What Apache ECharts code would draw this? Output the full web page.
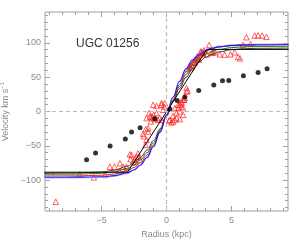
<!DOCTYPE html>
<html><head><meta charset="utf-8">
<script src="https://cdn.jsdelivr.net/npm/echarts@6/dist/echarts.min.js"></script>
<style>html,body{margin:0;padding:0;background:#fff}#c{width:300px;height:240px}</style>
</head><body><div id="c"></div>
<script>
// ---- tick values ----
const xMajorTicks = [-5, 0, 5];
const xMinorTicks = [-9,-8,-7,-6,-5,-4,-3,-2,-1,0,1,2,3,4,5,6,7,8,9];
const yMajorTicks = [-100, -50, 0, 50, 100];
const yMinorTicks = [-140,-130,-120,-110,-100,-90,-80,-70,-60,-50,-40,-30,-20,-10,0,10,20,30,40,50,60,70,80,90,100,110,120,130,140];

// ---- black filled dots ----
const dotR = [-6.15,-5.46,-4.34,-3.17,-2.69,-2.03,-0.9,0.25,0.82,1.41,2.48,3.64,4.31,4.79,5.92,7.05,7.74];
const dotV = [-70.2,-60.4,-50.1,-40.2,-29.7,-23.8,-10.7,3.5,16,21,30.7,38.6,44.9,45.3,52.2,57,62.4];

// ---- red open triangles ----
const triR = [-8.52,-6.67,-5.59,-4.72,-4.36,-4.0,-3.65,-3.59,-3.34,-3.15,-3.08,-2.82,-2.77,-2.69,-2.57,-2.44,-2.31,-2.13,-2.05,-2.2,-2.4,
  -1.8,-1.75,-1.62,-1.54,-1.59,-1.41,-1.41,-1.54,-1.34,-1.28,-1.21,-1.15,-1.08,-1.03,-0.98,-0.9,-0.77,-0.77,-0.65,-0.52,-0.38,-0.38,-0.38,-0.26,-0.18,-0.13,
  0.2,0.25,0.38,0.51,0.51,0.64,0.64,0.77,0.77,0.9,0.9,1.02,1.02,1.02,1.15,1.15,1.15,1.28,1.28,1.28,1.36,1.41,1.54,1.54,1.62,
  1.66,1.79,1.87,1.92,1.97,2.05,2.12,2.18,2.23,2.31,2.38,2.43,2.48,2.56,2.64,2.69,2.69,2.82,2.82,2.89,3.12,2.74,
  3.28,3.46,3.58,3.72,4.1,4.48,4.92,5.25,5.51,5.66,5.89,6.15,6.46,6.79,7.05,7.36,7.69];
const triV = [-131.6,-91.5,-95.9,-92.5,-80.4,-80.4,-86.7,-75.4,-80.4,-86.7,-80.4,-62.3,-69.6,-63.3,-73,-69.6,-65.8,-65.8,-70.6,-61,-74,
  -32.6,-36,-48.7,-41.4,-25.7,-29.2,-24.3,-9.6,-2.4,-7.3,-14.6,-7.3,-9.6,9.8,-4.8,-11,-2.4,8,-12.1,-9.6,-12.1,12.3,9.8,2.5,7.3,12.3,
  -13.2,-12.1,-16,-14.6,-6.3,-12.1,4.9,-9.6,-2.4,4.9,9.8,9.8,0,-11.1,14.6,12.3,7.3,-4.8,4.9,17.1,17.1,19.6,29.2,34.2,30.3,
  62,65.8,63.4,68.3,65.8,70.8,73.1,71.6,75.6,76.6,80.4,78.1,75.6,82.9,87.7,85.4,86.8,86.3,84.4,89.2,83.3,85.4,
  97,85.4,86.3,86.3,83.3,82.9,83.3,86.3,79.5,77.5,97.1,108.2,98.5,110.7,111,110.7,108.8];

// ---- model curves ----
const curveR = [-9.4,-7,-5,-4,-3,-2.5,-2,-1.5,-1,-0.5,0,0.5,1,1.5,2,2.5,3,3.5,4,5,6,7,9.4];
const lavenderV = [-97.0,-96.8,-96.0,-94.4,-90.2,-85.7,-78.6,-67.4,-51.3,-30,-5.1,20.9,44.2,62.6,75.8,84.4,90,93.3,95.2,97,97.7,98,98.4];
const blueV  = [-95.8,-95.7,-95.0,-93.5,-89.3,-84.9,-77.9,-67.0,-51.1,-30.0,-5.2,20.7,43.7,62.0,75.0,83.5,89.0,92.3,94.2,96.0,96.7,96.9,97.2];
const redV   = [-94.0,-93.8,-92.9,-91.1,-86.3,-81.6,-74.4,-63.7,-48.8,-29.5,-7.0,17.0,39.3,57.6,71.3,80.9,87.2,91.3,93.9,96.5,97.4,97.8,98.0];
const greenV = [-91.5,-91.3,-90.1,-88.0,-82.8,-77.9,-70.6,-60.0,-45.7,-27.5,-6.5,15.7,36.5,53.9,67.2,76.7,83.2,87.5,90.3,93.1,94.3,94.7,95.0];
const darkV  = [-90.0,-89.7,-88.2,-85.6,-79.7,-74.4,-66.8,-56.3,-42.4,-25.3,-6.0,14.3,33.4,49.7,62.5,72.2,78.9,83.5,86.7,90.1,91.5,92.1,92.5];
const stepR = [-9.4,-3.0,3.1,9.4];
const stepV = [-88.5,-88.5,90.5,90.5];

const zip = (a,b) => a.map((v,i)=>[v,b[i]]);
const fmt = v => v < 0 ? '\u2212' + Math.abs(v) : String(v);
const AX = '#a0a0a0', TXT = '#8a8a8a', FONT = 'Liberation Sans';
const XMIN=-9.35, XMAX=9.35, YMIN=-145, YMAX=145;

function xAx(pos, ticks, len, labels){
  return {type:'value', gridIndex:0, min:XMIN, max:XMAX, position:pos,
    axisLine:{show:false, onZero:false}, splitLine:{show:false},
    axisTick:{show:true, inside:true, length:len, customValues:ticks, lineStyle:{color:AX,width:1}},
    axisLabel: labels ? {show:true, customValues:xMajorTicks, formatter:fmt, color:TXT, fontSize:9, fontFamily:FONT, margin:5} : {show:false}};
}
function yAx(pos, ticks, len, labels){
  return {type:'value', gridIndex:0, min:YMIN, max:YMAX, position:pos,
    axisLine:{show:false, onZero:false}, splitLine:{show:false},
    axisTick:{show:true, inside:true, length:len, customValues:ticks, lineStyle:{color:AX,width:1}},
    axisLabel: labels ? {show:true, customValues:yMajorTicks, formatter:fmt, color:TXT, fontSize:9, fontFamily:FONT, margin:4} : {show:false}};
}
const xAxes = [xAx('bottom', xMajorTicks, 5, true), xAx('bottom', xMinorTicks, 3, false), xAx('top', xMajorTicks, 5, false), xAx('top', xMinorTicks, 3, false)];
xAxes[0].name = 'Radius (kpc)';
xAxes[0].nameLocation = 'middle';
xAxes[0].nameGap = 14;
xAxes[0].nameTextStyle = {color:TXT, fontSize:9, fontFamily:FONT};
const yAxes = [yAx('left', yMajorTicks, 5, true), yAx('left', yMinorTicks, 3, false), yAx('right', yMajorTicks, 5, false), yAx('right', yMinorTicks, 3, false)];
yAxes[0].name = 'Velocity km s{sup|\u22121}';
yAxes[0].nameLocation = 'middle';
yAxes[0].nameGap = 33;
yAxes[0].nameTextStyle = {color:TXT, fontSize:9, fontFamily:FONT, rich:{sup:{fontSize:6, color:TXT, fontFamily:FONT, verticalAlign:'top', padding:[0,0,5,0]}}};

function curve(data, color, w){
  return {type:'line', data:data, xAxisIndex:0, yAxisIndex:0, showSymbol:false, symbol:'none',
    smooth:0.4, smoothMonotone:'x', lineStyle:{color:color, width:w}, silent:true, z:3};
}

const chart = echarts.init(document.getElementById('c'), null, {renderer:'canvas'});
chart.setOption({
  animation:false,
  backgroundColor:'#fff',
  grid:{left:45, right:12, top:12, bottom:29, containLabel:false, outerBoundsMode:'none', show:true, borderColor:AX, borderWidth:1, backgroundColor:'transparent'},
  xAxis:xAxes,
  yAxis:yAxes,
  graphic:[{type:'text', left:76, top:38, style:{text:'UGC 01256', font:'12px "Liberation Sans"', fill:'#333'}}],
  series:[
    {type:'line', data:[], xAxisIndex:0, yAxisIndex:0, silent:true,
     markLine:{silent:true, symbol:['none','none'], label:{show:false},
       lineStyle:{type:[4,3], color:'#bdbdbd', width:1.2},
       data:[{xAxis:0},{yAxis:0}]}},
    {type:'scatter', data:zip(triR,triV), xAxisIndex:0, yAxisIndex:0, symbol:'triangle', symbolSize:5.5,
     itemStyle:{color:'rgba(0,0,0,0)', borderColor:'#ff2020', borderWidth:0.9}, z:2},
    curve(zip(curveR,lavenderV), '#c4c4ff', 1.2),
    curve(zip(curveR,darkV), '#3a3a3a', 1),
    curve(zip(curveR,greenV), '#1e7a1e', 1),
    curve(zip(curveR,redV), '#ee1c1c', 1),
    curve(zip(curveR,blueV), '#1a1aff', 1.1),
    {type:'line', data:zip(stepR,stepV), xAxisIndex:0, yAxisIndex:0, symbol:'none', lineStyle:{color:'#000', width:1}, silent:true, z:3},
    {type:'scatter', data:zip(dotR,dotV), xAxisIndex:0, yAxisIndex:0, symbol:'circle', symbolSize:5,
     itemStyle:{color:'#000'}, z:5}
  ]
});
</script>
</body></html>
